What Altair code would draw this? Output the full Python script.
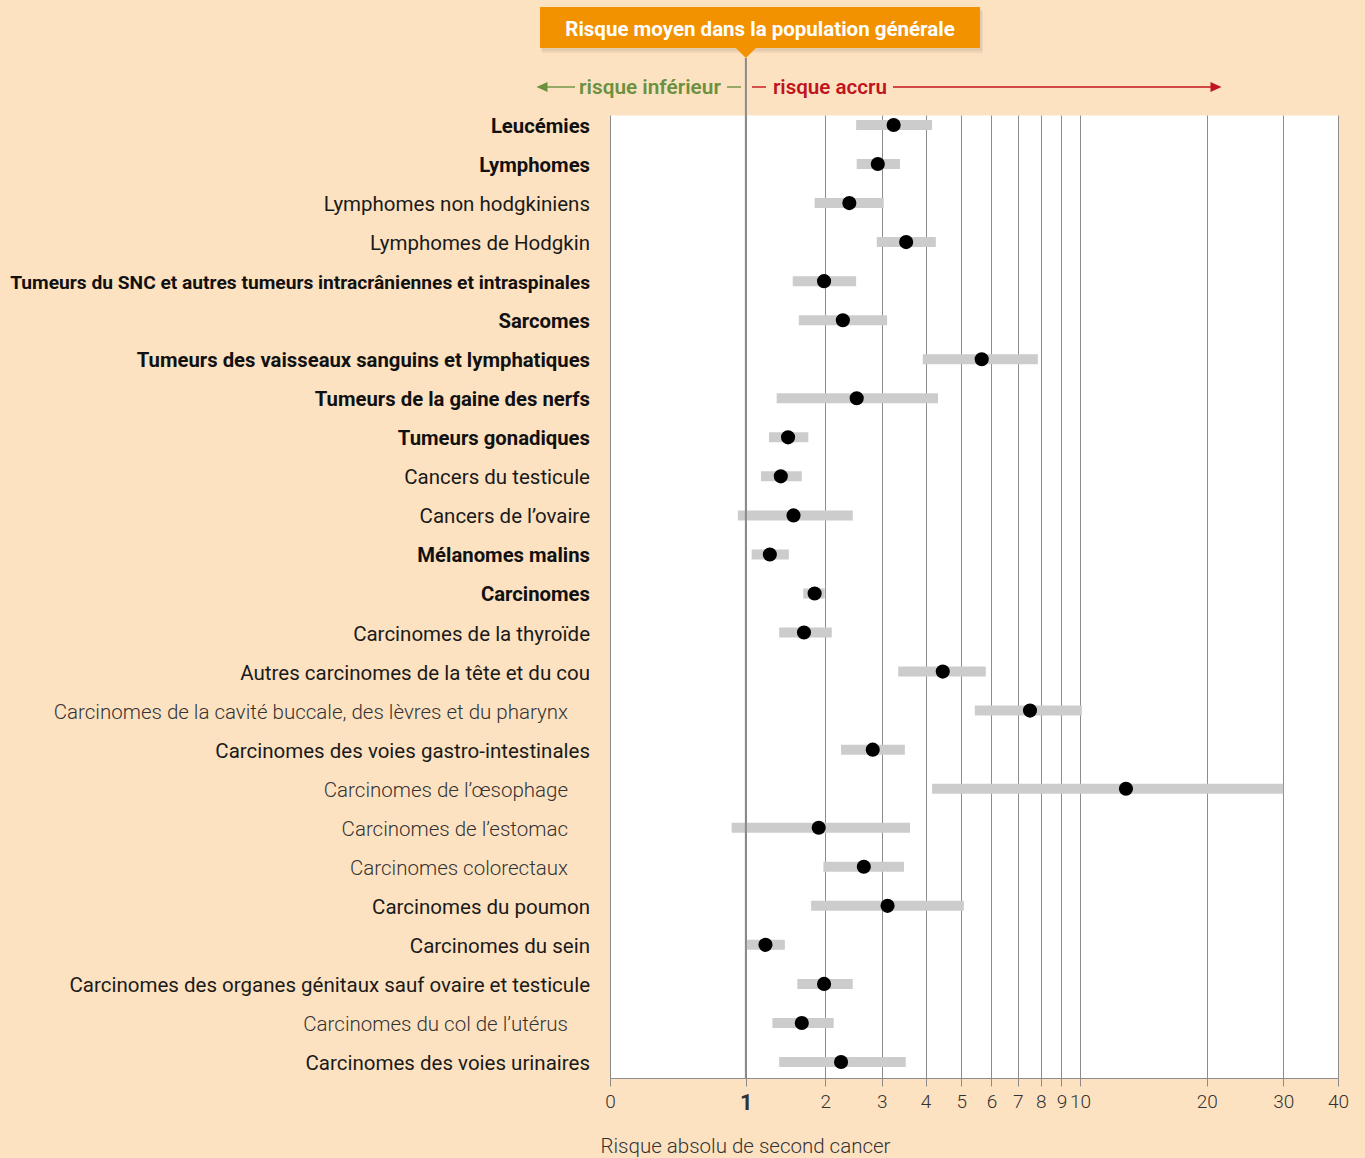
import altair as alt
import pandas as pd

# Second cancer risk by type (point estimate with confidence interval)
categories = [
    "Leucémies",
    "Lymphomes",
    "Lymphomes non hodgkiniens",
    "Lymphomes de Hodgkin",
    "Tumeurs du SNC et autres tumeurs intracrâniennes et intraspinales",
    "Sarcomes",
    "Tumeurs des vaisseaux sanguins et lymphatiques",
    "Tumeurs de la gaine des nerfs",
    "Tumeurs gonadiques",
    "Cancers du testicule",
    "Cancers de l’ovaire",
    "Mélanomes malins",
    "Carcinomes",
    "Carcinomes de la thyroïde",
    "Autres carcinomes de la tête et du cou",
    "Carcinomes de la cavité buccale, des lèvres et du pharynx",
    "Carcinomes des voies gastro-intestinales",
    "Carcinomes de l’œsophage",
    "Carcinomes de l’estomac",
    "Carcinomes colorectaux",
    "Carcinomes du poumon",
    "Carcinomes du sein",
    "Carcinomes des organes génitaux sauf ovaire et testicule",
    "Carcinomes du col de l’utérus",
    "Carcinomes des voies urinaires",
]
# hierarchy: 0 = main group, 1 = type, 2 = sub-type
levels = [0, 0, 1, 1, 0, 0, 0, 0, 0, 1, 1, 0, 0, 1, 1, 2, 1, 2, 2, 2, 1, 1, 1, 2, 1]
estimate = [3.25, 2.92, 2.39, 3.53, 1.98, 2.28, 5.66, 2.52, 1.48, 1.39, 1.55, 1.26, 1.84,
            1.69, 4.46, 7.52, 2.82, 12.9, 1.90, 2.65, 3.12, 1.21, 1.98, 1.66, 2.25]
ci_low = [2.51, 2.52, 1.84, 2.90, 1.54, 1.62, 3.93, 1.34, 1.25, 1.16, 0.92, 1.06, 1.68,
          1.37, 3.35, 5.43, 2.25, 4.17, 0.86, 1.97, 1.79, 1.00, 1.60, 1.29, 1.37]
ci_high = [4.17, 3.39, 3.04, 4.27, 2.51, 3.11, 7.87, 4.33, 1.75, 1.66, 2.45, 1.49, 1.99,
           2.10, 5.80, 10.1, 3.50, 30.0, 3.62, 3.48, 5.08, 1.44, 2.45, 2.13, 3.52]
tick_values = [0, 1, 2, 3, 4, 5, 6, 7, 8, 9, 10, 20, 30, 40]

W, H = 728, 963
BG = "#FDE2C1"
ORANGE = "#F39200"
GREEN = "#6B9140"
RED = "#C0141E"
GRID = "#8c8c8c"

df = pd.DataFrame({
    "label": categories,
    "level": levels,
    "estimate": estimate,
    "low": ci_low,
    "high": ci_high,
    "idx": list(range(len(categories))),
})
# long group title gets a tighter size so it fits in the margin
df["fs"] = [19.2 if len(c) > 60 else (20.3 if l == 0 else 20.5)
            for c, l in zip(categories, levels)]

xscale = alt.Scale(type="symlog", domain=[0, 40], nice=False)
yscale = alt.Scale(domain=[-0.256, 24.41], reverse=True, nice=False, zero=False)

x_axis = alt.Axis(
    values=tick_values, format="d",
    grid=True, gridColor=GRID, gridWidth=1,
    domainColor=GRID, tickColor=GRID, tickSize=8,
    labelFont="Roboto", labelColor="#333",
    labelFontSize=alt.condition("datum.value == 1", alt.value(22), alt.value(19)),
    labelFontWeight=alt.condition("datum.value == 1", alt.value(700), alt.value(300)),
    labelPadding=6, labelFlush=False, labelOverlap=False,
    title="Risque absolu de second cancer",
    titleFont="Roboto", titleFontSize=20.5, titleFontWeight=300, titleColor="#333",
    titleX=135, titleY=74, titleAlign="center", titleBaseline="alphabetic",
)

# confidence intervals
ci = alt.Chart(df).mark_rule(strokeWidth=10, color="#cccccc", strokeCap="butt").encode(
    x=alt.X("low:Q", scale=xscale, axis=x_axis),
    x2="high:Q",
    y=alt.Y("idx:Q", scale=yscale, axis=None),
)

one = pd.DataFrame({"k": [0]})

# reference line at the general population risk
ref_line = alt.Chart(one).mark_rule(color="#8a8a8a", strokeWidth=2).encode(
    x=alt.datum(1), y=alt.value(-57), y2=alt.value(H)
)

points = alt.Chart(df).mark_circle(size=200, color="black", opacity=1).encode(
    x=alt.X("estimate:Q", scale=xscale),
    y=alt.Y("idx:Q", scale=yscale),
)

# row labels, styled by hierarchy level
label_styles = {
    0: dict(fontWeight=700, color="#111111", xoff=-20),
    1: dict(fontWeight=400, color="#1a1a1a", xoff=-20),
    2: dict(fontWeight=300, color="#333333", xoff=-42),
}
label_layers = []
for lvl, st in label_styles.items():
    label_layers.append(
        alt.Chart(df).transform_filter(f"datum.level == {lvl}")
        .mark_text(align="right", baseline="middle", font="Roboto", dy=2,
                   fontWeight=st["fontWeight"], color=st["color"])
        .encode(
            x=alt.value(st["xoff"]),
            y=alt.Y("idx:Q", scale=yscale),
            text="label:N",
            size=alt.Size("fs:Q", scale=None, legend=None),
        )
    )

# header call-out box with pointer
shadow1 = alt.Chart(one).mark_rect(color="black", opacity=0.05).encode(
    x=alt.value(-68), x2=alt.value(373), y=alt.value(-104), y2=alt.value(-62))
shadow2 = alt.Chart(one).mark_rect(color="black", opacity=0.05).encode(
    x=alt.value(-69), x2=alt.value(372), y=alt.value(-106), y2=alt.value(-64))
box = alt.Chart(one).mark_rect(color=ORANGE).encode(
    x=alt.value(-70), x2=alt.value(370), y=alt.value(-108), y2=alt.value(-67))
pointer = alt.Chart(one).mark_point(
    shape="M-1,-1L1,-1L0,0Z", size=484, filled=True, color=ORANGE, opacity=1
).encode(x=alt.datum(1), y=alt.value(-57))
box_text = alt.Chart(one).mark_text(
    text="Risque moyen dans la population générale", font="Roboto", fontSize=20.5,
    fontWeight=700, color="white", align="center", baseline="middle"
).encode(x=alt.value(150), y=alt.value(-85))

# lower / higher risk arrows
ARROW_Y = -28
green_text = alt.Chart(one).mark_text(
    text="risque inférieur", font="Roboto", fontSize=20.8, fontWeight=600,
    color=GREEN, align="right", baseline="middle", dx=-25, dy=1
).encode(x=alt.datum(1), y=alt.value(ARROW_Y))
green_line = alt.Chart(one).mark_rule(color=GREEN, strokeWidth=1.4).encode(
    x=alt.value(-64), x2=alt.value(-35), y=alt.value(ARROW_Y))
green_dash = alt.Chart(one).mark_rule(color=GREEN, strokeWidth=1.4).encode(
    x=alt.value(117), x2=alt.value(131), y=alt.value(ARROW_Y))
green_head = alt.Chart(one).mark_point(
    shape="M-1,0L1,-0.9L1,0.9Z", size=121, filled=True, color=GREEN, opacity=1
).encode(x=alt.value(-68), y=alt.value(ARROW_Y))

red_text = alt.Chart(one).mark_text(
    text="risque accru", font="Roboto", fontSize=20.6, fontWeight=600,
    color=RED, align="left", baseline="middle", dx=27, dy=1
).encode(x=alt.datum(1), y=alt.value(ARROW_Y))
red_dash = alt.Chart(one).mark_rule(color=RED, strokeWidth=1.4).encode(
    x=alt.value(142), x2=alt.value(156), y=alt.value(ARROW_Y))
red_line = alt.Chart(one).mark_rule(color=RED, strokeWidth=1.4).encode(
    x=alt.value(283), x2=alt.value(604), y=alt.value(ARROW_Y))
red_head = alt.Chart(one).mark_point(
    shape="M1,0L-1,-0.9L-1,0.9Z", size=121, filled=True, color=RED, opacity=1
).encode(x=alt.value(606), y=alt.value(ARROW_Y))

chart = alt.layer(
    ci, ref_line, points, *label_layers,
    shadow1, shadow2, box, pointer, box_text,
    green_line, green_dash, green_head, green_text,
    red_dash, red_line, red_head, red_text,
).properties(
    width=W, height=H,
    autosize=alt.AutoSizeParams(type="none"),
    padding={"left": 610, "top": 115, "right": 27, "bottom": 80},
).configure(
    background=BG,
).configure_view(
    fill="white", stroke="transparent",
)

chart.save("out.html", embed_options={"renderer": "svg", "actions": False})
